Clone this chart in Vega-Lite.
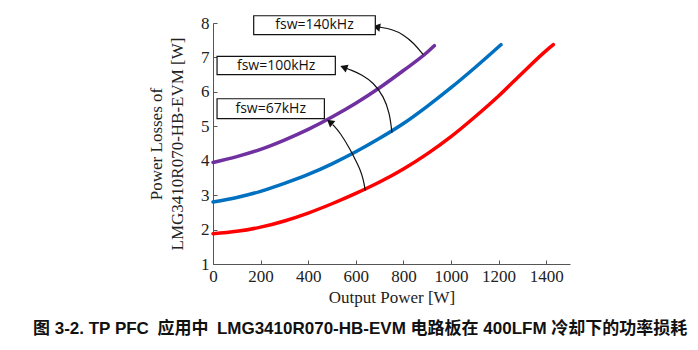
{
  "$schema": "https://vega.github.io/schema/vega-lite/v6.json",
  "autosize": "none",
  "width": 357,
  "height": 241,
  "padding": {"left": 213, "top": 23, "right": 128, "bottom": 86},
  "background": "white",
  "config": {
    "view": {"stroke": null},
    "axis": {
      "grid": false,
      "domainColor": "#555",
      "tickColor": "#555",
      "tickSize": -4,
      "labelPadding": 8,
      "labelFont": "Times New Roman",
      "labelFontSize": 17,
      "labelColor": "#222",
      "titleFont": "Liberation Serif",
      "titleFontSize": 17,
      "titleFontWeight": "normal",
      "titleColor": "#222",
      "labelOverlap": false,
      "labelFlush": false,
      "labelBound": false
    },
    "axisY": {"labelOverlap": false},
    "axisQuantitative": {"labelOverlap": false}
  },
  "title": {
    "text": "图 3-2. TP PFC\u2002应用中\u2002LMG3410R070-HB-EVM 电路板在 400LFM 冷却下的功率损耗",
    "orient": "bottom",
    "anchor": "start",
    "frame": "group",
    "dx": -180,
    "offset": 16,
    "font": "Liberation Sans, Noto Sans CJK SC",
    "fontSize": 17,
    "fontWeight": "bold",
    "color": "#111"
  },
  "datasets": {
    "curves": [
      {"series": "67kHz", "x": 0, "y": 1.88}, {"series": "67kHz", "x": 100, "y": 1.95}, {"series": "67kHz", "x": 200, "y": 2.07}, {"series": "67kHz", "x": 300, "y": 2.25}, {"series": "67kHz", "x": 400, "y": 2.48}, {"series": "67kHz", "x": 500, "y": 2.75}, {"series": "67kHz", "x": 600, "y": 3.05}, {"series": "67kHz", "x": 700, "y": 3.38}, {"series": "67kHz", "x": 800, "y": 3.76}, {"series": "67kHz", "x": 900, "y": 4.2}, {"series": "67kHz", "x": 1000, "y": 4.7}, {"series": "67kHz", "x": 1100, "y": 5.27}, {"series": "67kHz", "x": 1200, "y": 5.88}, {"series": "67kHz", "x": 1300, "y": 6.55}, {"series": "67kHz", "x": 1400, "y": 7.2}, {"series": "67kHz", "x": 1430, "y": 7.37},
      {"series": "100kHz", "x": 0, "y": 2.8}, {"series": "100kHz", "x": 100, "y": 2.93}, {"series": "100kHz", "x": 200, "y": 3.11}, {"series": "100kHz", "x": 300, "y": 3.34}, {"series": "100kHz", "x": 400, "y": 3.6}, {"series": "100kHz", "x": 500, "y": 3.91}, {"series": "100kHz", "x": 600, "y": 4.26}, {"series": "100kHz", "x": 700, "y": 4.65}, {"series": "100kHz", "x": 800, "y": 5.08}, {"series": "100kHz", "x": 900, "y": 5.58}, {"series": "100kHz", "x": 1000, "y": 6.12}, {"series": "100kHz", "x": 1100, "y": 6.7}, {"series": "100kHz", "x": 1210, "y": 7.37},
      {"series": "140kHz", "x": 0, "y": 3.95}, {"series": "140kHz", "x": 100, "y": 4.12}, {"series": "140kHz", "x": 200, "y": 4.33}, {"series": "140kHz", "x": 300, "y": 4.6}, {"series": "140kHz", "x": 400, "y": 4.91}, {"series": "140kHz", "x": 500, "y": 5.27}, {"series": "140kHz", "x": 600, "y": 5.67}, {"series": "140kHz", "x": 700, "y": 6.12}, {"series": "140kHz", "x": 800, "y": 6.62}, {"series": "140kHz", "x": 900, "y": 7.15}, {"series": "140kHz", "x": 930, "y": 7.34}
    ],
    "arrows": [
      {"arrow": "a140", "ord": 1, "x": 883, "y": 7.08}, {"arrow": "a140", "ord": 2, "x": 843, "y": 7.42}, {"arrow": "a140", "ord": 3, "x": 801, "y": 7.66}, {"arrow": "a140", "ord": 4, "x": 752, "y": 7.82}, {"arrow": "a140", "ord": 5, "x": 700, "y": 7.88},
      {"arrow": "a100", "ord": 1, "x": 752, "y": 4.81}, {"arrow": "a100", "ord": 2, "x": 742, "y": 5.39}, {"arrow": "a100", "ord": 3, "x": 717, "y": 5.87}, {"arrow": "a100", "ord": 4, "x": 675, "y": 6.26}, {"arrow": "a100", "ord": 5, "x": 626, "y": 6.5}, {"arrow": "a100", "ord": 6, "x": 577, "y": 6.64}, {"arrow": "a100", "ord": 7, "x": 562, "y": 6.68},
      {"arrow": "a67", "ord": 1, "x": 640, "y": 3.13}, {"arrow": "a67", "ord": 2, "x": 632, "y": 3.45}, {"arrow": "a67", "ord": 3, "x": 619, "y": 3.74}, {"arrow": "a67", "ord": 4, "x": 598, "y": 4.03}, {"arrow": "a67", "ord": 5, "x": 577, "y": 4.32}, {"arrow": "a67", "ord": 6, "x": 535, "y": 4.81}, {"arrow": "a67", "ord": 7, "x": 503, "y": 5.05}
    ],
    "heads": [
      {"arrow": "a140", "x": 692, "y": 7.88, "angle": 280},
      {"arrow": "a100", "x": 554, "y": 6.7, "angle": 290},
      {"arrow": "a67", "x": 495, "y": 5.1, "angle": 309}
    ],
    "boxes": [
      {"label": "fsw=140kHz", "x": 171, "x2": 682, "y": 7.66, "y2": 8.21},
      {"label": "fsw=100kHz", "x": 17, "x2": 514, "y": 6.5, "y2": 7.03},
      {"label": "fsw=67kHz", "x": 17, "x2": 468, "y": 5.22, "y2": 5.8}
    ],
    "labels": [
      {"label": "fsw=140kHz", "x": 426.5, "y": 7.935},
      {"label": "fsw=100kHz", "x": 265.5, "y": 6.765},
      {"label": "fsw=67kHz", "x": 242.5, "y": 5.51}
    ]
  },
  "encoding": {
    "x": {"field": "x", "type": "quantitative", "scale": {"domain": [0, 1500], "nice": false},
          "axis": {"title": "Output Power [W]", "values": [0, 200, 400, 600, 800, 1000, 1200, 1400], "format": "d", "titlePadding": 5, "labelOverlap": false, "labelFont": "Times New Roman"}},
    "y": {"field": "y", "type": "quantitative", "scale": {"domain": [1, 8], "nice": false, "zero": false},
          "axis": {"title": ["Power Losses of", "LMG3410R070-HB-EVM [W]"], "values": [1, 2, 3, 4, 5, 6, 7, 8], "format": "d", "titleLineHeight": 21, "titlePadding": 14, "labelOverlap": false, "labelFont": "Times New Roman"}}
  },
  "layer": [
    {
      "data": {"name": "curves"},
      "mark": {"type": "line", "strokeWidth": 3.5, "clip": false, "strokeCap": "round", "interpolate": "monotone"},
      "encoding": {
        "color": {"field": "series", "type": "nominal", "scale": {"domain": ["67kHz", "100kHz", "140kHz"], "range": ["#FF0000", "#0070C0", "#7030A0"]}, "legend": null},
        "order": {"field": "x", "type": "quantitative"}
      }
    },
    {
      "data": {"name": "arrows"},
      "mark": {"type": "line", "color": "#111", "strokeWidth": 1.2, "interpolate": "basis", "clip": false},
      "encoding": {
        "detail": {"field": "arrow"},
        "order": {"field": "ord", "type": "quantitative"}
      }
    },
    {
      "data": {"name": "heads"},
      "mark": {"type": "point", "shape": "triangle", "filled": true, "color": "#111", "size": 70, "opacity": 1, "clip": false},
      "encoding": {
        "angle": {"field": "angle", "type": "quantitative", "scale": null}
      }
    },
    {
      "data": {"name": "boxes"},
      "mark": {"type": "rect", "fill": "white", "stroke": "#111", "strokeWidth": 1.2, "clip": false},
      "encoding": {
        "x2": {"field": "x2"},
        "y2": {"field": "y2"}
      }
    },
    {
      "data": {"name": "labels"},
      "mark": {"type": "text", "font": "Open Sans", "fontSize": 14, "color": "#111", "align": "center", "baseline": "middle", "clip": false},
      "encoding": {
        "text": {"field": "label"}
      }
    }
  ]
}
